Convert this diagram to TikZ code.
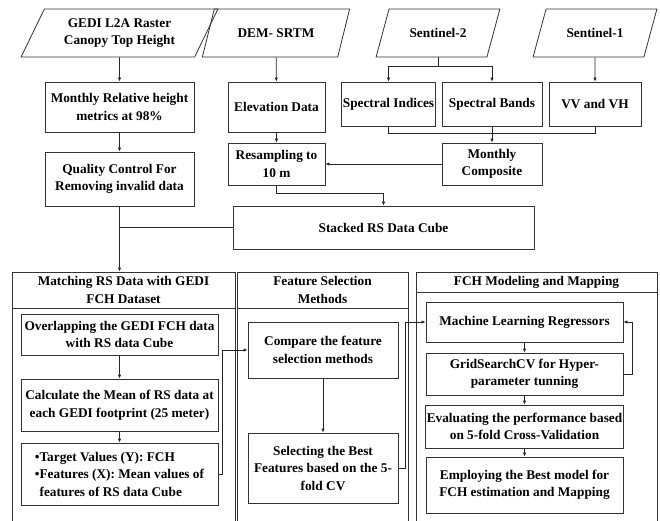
\documentclass[tikz,border=0pt]{standalone}
\usepackage{fontspec}
\setmainfont{Liberation Serif}
\usetikzlibrary{shapes.geometric,arrows.meta}

\begin{document}
\begin{tikzpicture}[
    x=1pt, y=-1pt,
    font=\fontsize{13.3}{17.5}\selectfont\bfseries,
    box/.style={rectangle, draw=black!80, line width=0.8pt, align=center, inner xsep=1pt},
    data/.style={trapezium, trapezium left angle=64, trapezium right angle=116, trapezium stretches=true,
        draw=black!80, line width=0.8pt, minimum height=48, align=center, inner xsep=1pt},
    head/.style={rectangle, draw=black!80, line width=0.8pt, align=center, inner sep=1pt},
    panel/.style={rectangle, draw=black!80, line width=0.8pt},
    arrow/.style={-{Latex[length=4pt,width=3.5pt]}, line width=0.8pt, black!85},
    line/.style={line width=0.8pt, black!85}
]
    \clip (0,0) rectangle (660,521);

    % Input data
    \node[data, minimum width=197] (gedi) at (119.5,33) {GEDI L2A Raster\\Canopy Top Height};
    \node[data, minimum width=148] (dem) at (276,33) {DEM- SRTM};
    \node[data, minimum width=124] (s2) at (438,33) {Sentinel-2};
    \node[data, minimum width=124] (s1) at (595,33) {Sentinel-1};

    % Preprocessing
    \node[box, minimum width=149, minimum height=50] (rh) at (119.5,107) {Monthly Relative height\\metrics at 98\%};
    \node[box, minimum width=149, minimum height=54] (qc) at (119.5,179) {Quality Control For\\Removing invalid data};
    \node[box, minimum width=97, minimum height=50] (elev) at (276.5,107) {Elevation Data};
    \node[box, minimum width=97, minimum height=42] (resamp) at (276.5,164) {Resampling to\\10 m};
    \node[box, minimum width=93, minimum height=44] (indices) at (388.5,104) {Spectral Indices};
    \node[box, minimum width=100, minimum height=44] (bands) at (492,104) {Spectral Bands};
    \node[box, minimum width=92, minimum height=44] (vvvh) at (595,104) {VV and VH};
    \node[box, minimum width=100, minimum height=42] (comp) at (492,164) {Monthly\\Composite};
    \node[box, minimum width=301, minimum height=43] (cube) at (383.5,227.5) {Stacked RS Data Cube};

    % Panels
    \node[head, minimum width=223, minimum height=36] (mhead) at (123.5,290) {Matching RS Data with GEDI\\FCH Dataset};
    \node[panel, minimum width=223, minimum height=230] (mbody) at (123.5,423) {};
    \node[head, minimum width=171, minimum height=36] (fhead) at (322.5,290) {Feature Selection\\Methods};
    \node[panel, minimum width=171, minimum height=230] (fbody) at (322.5,423) {};
    \node[head, minimum width=241, minimum height=20] (phead) at (536.5,282) {FCH Modeling and Mapping};
    \node[panel, minimum width=241, minimum height=240] (pbody) at (536.5,412) {};

    % Matching steps
    \node[box, minimum width=197, minimum height=41] (overlap) at (119.5,334.5) {Overlapping the GEDI FCH data\\with RS data Cube};
    \node[box, minimum width=197, minimum height=52] (mean) at (119.5,405) {Calculate the Mean of RS data at\\each GEDI footprint (25 meter)};
    \node[box, minimum width=197, minimum height=62, align=left, inner xsep=0.5pt] (target) at (119.5,474)
        {\textbullet Target Values (Y): FCH\\\textbullet Features (X): Mean values of\\\hphantom{\textbullet}features of RS data Cube};

    % Feature selection steps
    \node[box, minimum width=150, minimum height=56] (compare) at (323,350) {Compare the feature\\selection methods};
    \node[box, minimum width=150, minimum height=70] (select) at (323,468) {Selecting the Best\\Features based on the 5-\\fold CV};

    % Modeling steps
    \node[box, minimum width=197, minimum height=40] (regr) at (524.5,322) {Machine Learning Regressors};
    \node[box, minimum width=197, minimum height=42] (grid) at (524.5,374) {GridSearchCV for Hyper-\\parameter tunning};
    \node[box, minimum width=197, minimum height=43] (eval) at (524.5,426.5) {Evaluating the performance based\\on 5-fold Cross-Validation};
    \node[box, minimum width=197, minimum height=56] (employ) at (524.5,485) {Employing the Best model for\\FCH estimation and Mapping};

    \coordinate (s2split) at (438,66);
    \coordinate (compjoin) at (492,133);
    \coordinate (resjoin) at (276.5,193);

    \draw[arrow] (gedi) -- (rh);
    \draw[arrow] (rh) -- (qc);
    \draw[arrow] (dem) -- (elev);
    \draw[arrow] (elev) -- (resamp);
    \draw[line] (s2) -- (s2split);
    \draw[arrow] (s2split) -| (indices);
    \draw[arrow] (s2split) -| (bands);
    \draw[arrow] (s1) -- (vvvh);
    \draw[line] (indices) |- (compjoin);
    \draw[line] (vvvh) |- (compjoin);
    \draw[arrow] (bands) -- (comp);
    \draw[arrow] (comp) -- (resamp);
    \draw[arrow] (resamp) -- (resjoin) -| (cube);
    \draw[arrow] (qc.south) -- (qc.south |- mhead.north);
    \draw[line] (cube.west) -- (cube.west -| qc.south);

    \draw[arrow] (overlap) -- (mean);
    \draw[arrow] (mean) -- (target);
    \draw[arrow] (target.east) -- ++(4,0) |- (compare.west);
    \draw[arrow] (compare) -- (select);
    \draw[arrow] (select.east) -- ++(7,0) |- (regr.west);
    \draw[arrow] (regr) -- (grid);
    \draw[arrow] (grid) -- (eval);
    \draw[arrow] (eval) -- (employ);
    \draw[arrow] (grid.east) -- ++(9,0) |- (regr.east);
\end{tikzpicture}
\end{document}
